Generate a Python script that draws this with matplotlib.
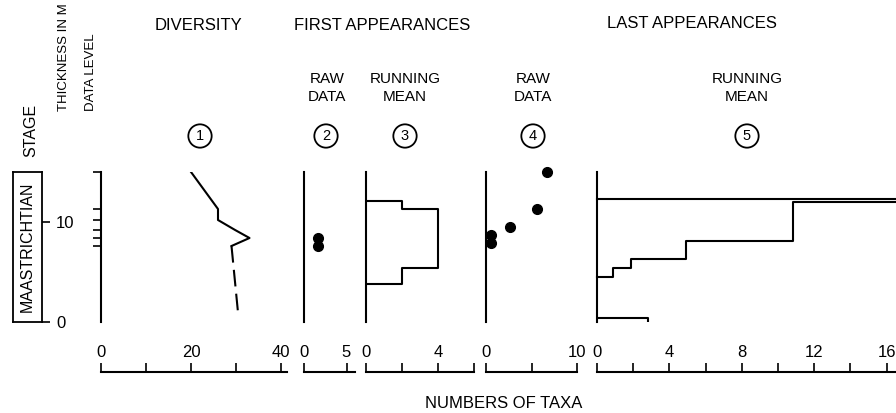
import matplotlib
matplotlib.use('Agg')
import matplotlib.pyplot as plt

plt.rcParams['font.family'] = 'Liberation Sans'
plt.rcParams['font.size'] = 12

W, H = 896, 413

# sampled data levels (m)
levels = [15.0, 11.3, 10.2, 9.2, 8.4, 7.6]

# (1) diversity
diversity = [20, 26, 26, 29.8, 33, 29]
diversity_ext_y = [7.6, 0.7]
diversity_ext_n = [29, 30.5]

# (2) first appearances, raw data
fa_raw_y = [8.4, 7.6]
fa_raw_n = [1.7, 1.7]

# (3) first appearances, running mean
fa_mean_bounds = [12.1, 11.3, 5.4, 3.8]
fa_mean_vals = [2, 4, 2]

# (4) last appearances, raw data
la_raw_y = [15.0, 11.3, 9.5, 8.7, 7.9]
la_raw_n = [6.7, 5.6, 2.6, 0.6, 0.6]

# (5) last appearances, running mean
la_mean_bounds = [4.5, 5.4, 6.3, 8.1, 12.0]
la_mean_vals = [0.9, 1.9, 4.9, 10.85, 17.5]
la_mean_top_y = 12.3
la_mean_top_n = 17.5
la_mean_base_y = 0.4
la_mean_base_n = 2.8


def px_axes(fig, left, top, right, bottom):
    return fig.add_axes([left / W, 1 - bottom / H, (right - left) / W, (bottom - top) / H])


def step_profile(bounds, vals):
    xs, ys = [0], [bounds[0]]
    for i, v in enumerate(vals):
        xs += [v, v]
        ys += [bounds[i], bounds[i + 1] if i + 1 < len(bounds) else bounds[i]]
    if len(vals) < len(bounds):
        xs.append(0)
        ys.append(bounds[-1])
    return xs, ys


def panel(fig, x0, scale, xmax):
    ax = px_axes(fig, x0, 172, x0 + xmax * scale, 322)
    ax.set_xlim(0, xmax)
    ax.set_ylim(0, 15)
    for s in ['top', 'right', 'bottom']:
        ax.spines[s].set_visible(False)
    ax.spines['left'].set_linewidth(1.5)
    ax.set_xticks([])
    ax.set_yticks([])
    ax.patch.set_alpha(0)
    return ax


def scale_bar(fig, x0, scale, xmax, ticks, labels):
    ax = px_axes(fig, x0, 362, x0 + xmax * scale, 372)
    ax.set_xlim(0, xmax)
    ax.set_ylim(0, 1)
    for s in ['top', 'right', 'left']:
        ax.spines[s].set_visible(False)
    ax.spines['bottom'].set_linewidth(1.5)
    ax.set_yticks([])
    ax.set_xticks(ticks)
    ax.set_xticklabels(labels)
    ax.tick_params(axis='x', direction='in', length=6.5, width=1.2,
                   top=False, bottom=True, labeltop=True, labelbottom=False, pad=1.5)
    ax.patch.set_alpha(0)
    return ax


def main():
    fig = plt.figure(figsize=(W / 100, H / 100), dpi=100)

    # stage column
    ax = px_axes(fig, 13, 172, 42, 322)
    ax.set_ylim(0, 15)
    ax.set_xticks([])
    for s in ax.spines.values():
        s.set_linewidth(1.3)
    ax.yaxis.tick_right()
    ax.set_yticks([0, 10])
    ax.tick_params(axis='y', length=6, width=1.2, pad=4)
    ax.text(0.5, 0.5, 'MAASTRICHTIAN', rotation=90, ha='center', va='center',
            transform=ax.transAxes, fontsize=11.5)

    # diversity with data level ticks
    ax = panel(fig, 101, 4.5, 41.3)
    ax.set_yticks(levels)
    ax.set_yticklabels([])
    ax.tick_params(axis='y', direction='out', length=6, width=1.2)
    ax.plot(diversity, levels, color='black', lw=1.5)
    ax.plot(diversity_ext_n, diversity_ext_y, color='black', lw=1.5, dashes=(8, 3.5))

    ax = panel(fig, 303.5, 8.6, 6)
    ax.plot(fa_raw_n, fa_raw_y, 'o', color='black', ms=7, clip_on=False)

    ax = panel(fig, 366, 18, 6)
    xs, ys = step_profile(fa_mean_bounds, fa_mean_vals)
    ax.plot(xs, ys, color='black', lw=1.5)

    ax = panel(fig, 486, 9.1, 10)
    ax.plot(la_raw_n, la_raw_y, 'o', color='black', ms=7, clip_on=False)

    ax = panel(fig, 597, 18.1, 16.5)
    xs, ys = step_profile(la_mean_bounds, la_mean_vals)
    ax.plot(xs, ys, color='black', lw=1.5, clip_on=False)
    ax.plot([0, la_mean_top_n], [la_mean_top_y] * 2, color='black', lw=1.5, clip_on=False)
    ax.plot([0, la_mean_base_n, la_mean_base_n], [la_mean_base_y, la_mean_base_y, 0.1],
            color='black', lw=1.5)

    # scale bars
    scale_bar(fig, 101, 4.5, 41.3, [0, 10, 20, 30, 40], ['0', '', '20', '', '40'])
    scale_bar(fig, 303.5, 8.6, 6, [0, 5], ['0', '5'])
    scale_bar(fig, 366, 18, 6, [0, 2, 4, 6], ['0', '', '4', ''])
    scale_bar(fig, 486, 9.1, 10, [0, 5, 10], ['0', '', '10'])
    scale_bar(fig, 597, 18.1, 16.5, list(range(0, 17, 2)),
              ['0', '', '4', '', '8', '', '12', '', '16'])

    def ftext(x, y, s, va='center', **kw):
        fig.text(x / W, 1 - y / H, s, ha='center', va=va, **kw)

    ftext(31, 157, 'STAGE', va='bottom', rotation=90, fontsize=11.5)
    ftext(64, 111, 'THICKNESS IN M', va='bottom', rotation=90, fontsize=9.5)
    ftext(91, 111, 'DATA LEVEL', va='bottom', rotation=90, fontsize=9.5)

    ftext(198, 25, 'DIVERSITY')
    ftext(382, 25, 'FIRST APPEARANCES')
    ftext(692, 24, 'LAST APPEARANCES')

    for x, s in [(327, 'RAW\nDATA'), (405, 'RUNNING\nMEAN'),
                 (533, 'RAW\nDATA'), (747, 'RUNNING\nMEAN')]:
        ftext(x, 88, s, fontsize=11, linespacing=1.35)

    for x, s in [(200, '1'), (326, '2'), (405, '3'), (533, '4'), (747, '5')]:
        ftext(x, 136, s, fontsize=10.5,
              bbox=dict(boxstyle='circle,pad=0.32', fc='white', ec='black', lw=1.3))

    ftext(504, 403, 'NUMBERS OF TAXA')

    fig.savefig('out.png', dpi=100)


if __name__ == '__main__':
    main()
